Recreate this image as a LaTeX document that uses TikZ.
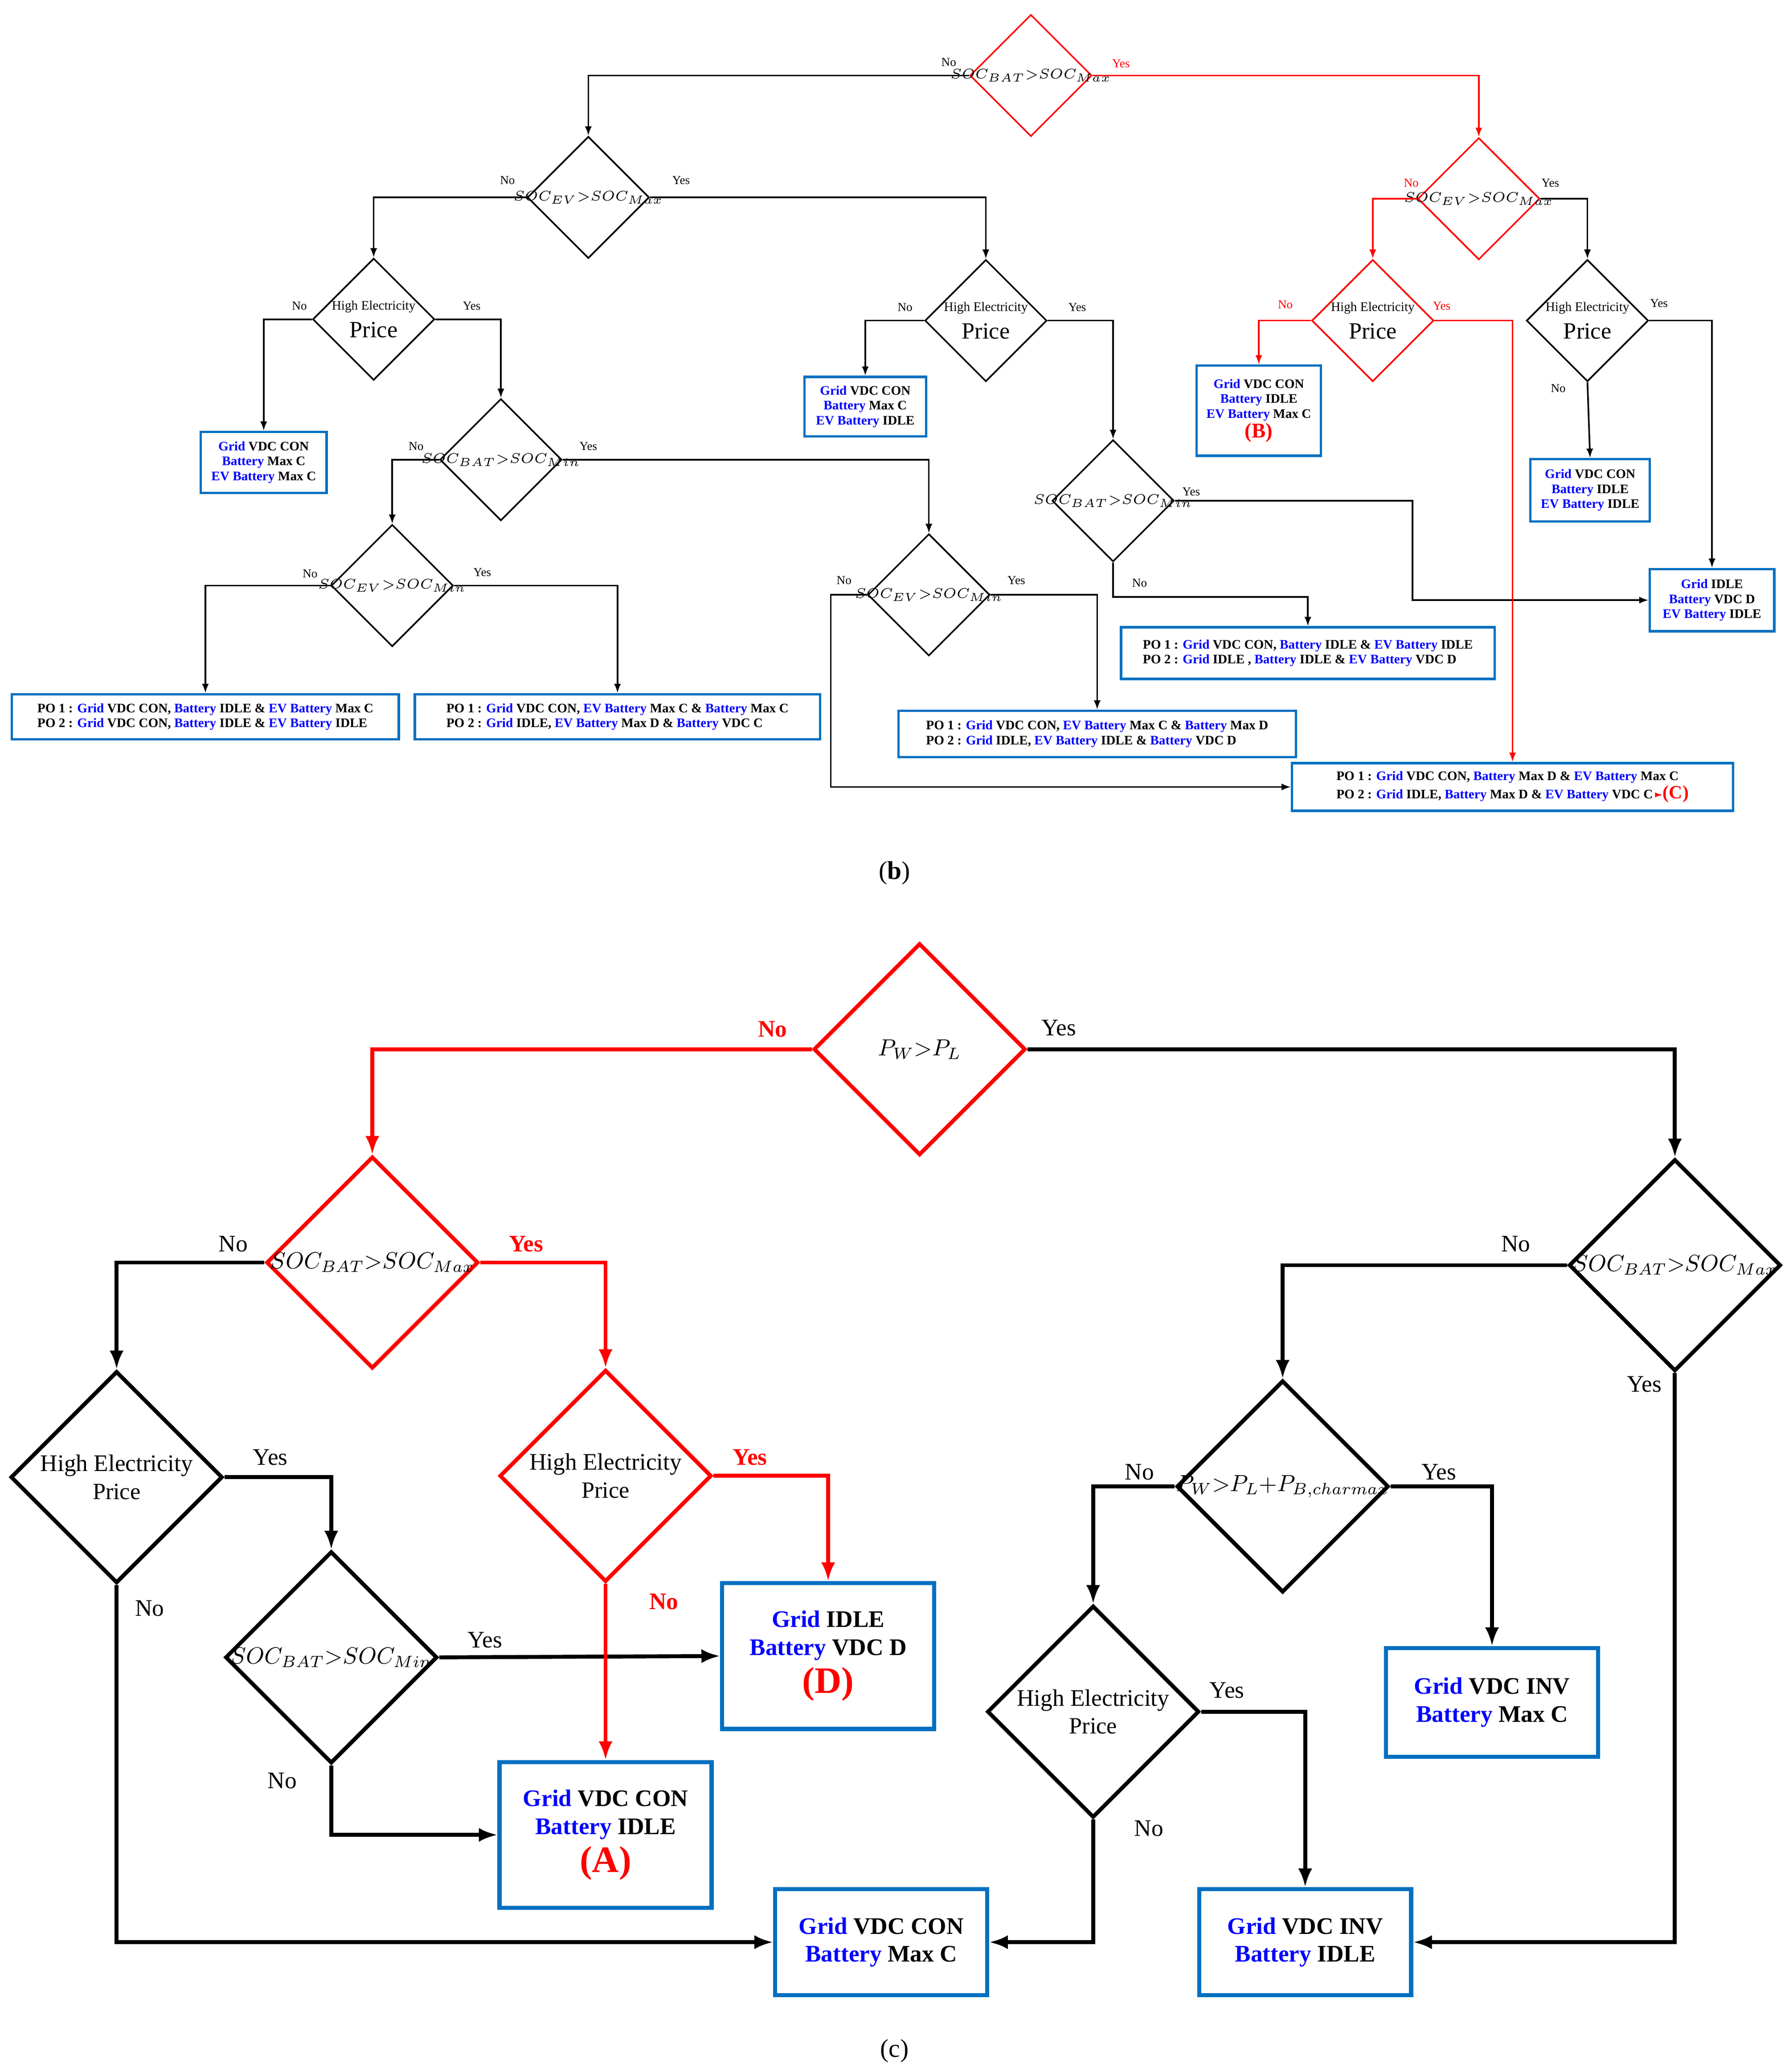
\documentclass[tikz,border=0pt]{standalone}
\usepackage{fontspec}
\setmainfont{Liberation Serif}
\usetikzlibrary{shapes.geometric,arrows.meta}
\definecolor{boxblue}{RGB}{0,112,192}
\newcommand{\gb}[1]{\textbf{\textcolor{blue}{#1}}}
\newcommand{\fsmall}{\fontsize{5.6}{6.4}\selectfont}
\newcommand{\fmid}{\fontsize{10.2}{12}\selectfont}

\begin{document}
\begin{tikzpicture}[x=0.02cm, y=-0.02cm,
  sdec/.style={diamond, draw, inner sep=0pt, minimum size=1.84cm, line width=0.7pt},
  bdec/.style={diamond, draw, inner sep=0pt, minimum size=3.2cm, line width=1.7pt},
  sbox/.style={rectangle, draw=boxblue, line width=1pt, inner sep=1pt, font=\fsmall, align=center},
  bbox/.style={rectangle, draw=boxblue, line width=1.8pt, minimum width=3.2cm, font=\fmid, align=center},
  sarr/.style={-{Latex[length=4pt]}, line width=0.7pt},
  barr/.style={-{Latex[length=8pt]}, line width=1.7pt},
  slbl/.style={font=\fontsize{5.2}{6}\selectfont},
  blbl/.style={font=\fmid}
]
\useasboundingbox (0,0) rectangle (1350,1564);

% Part (b): diamonds
\node[sdec, red, label={center:\fsmall$SOC_{BAT}{>}SOC_{Max}$}] (d1) at (778,57) {};
\node[sdec, label={center:\fsmall$SOC_{EV}{>}SOC_{Max}$}] (d2) at (444,149) {};
\node[sdec, label={[align=center]center:\fsmall High Electricity\\Price}] (d3) at (282,241) {};
\node[sdec, label={center:\fsmall$SOC_{BAT}{>}SOC_{Min}$}] (d4) at (378,347) {};
\node[sdec, label={center:\fsmall$SOC_{EV}{>}SOC_{Min}$}] (d5) at (296,442) {};
\node[sdec, label={[align=center]center:\fsmall High Electricity\\Price}] (d6) at (744,242) {};
\node[sdec, label={center:\fsmall$SOC_{BAT}{>}SOC_{Min}$}] (d7) at (840,378) {};
\node[sdec, label={center:\fsmall$SOC_{EV}{>}SOC_{Min}$}] (d8) at (701,449) {};
\node[sdec, red, label={center:\fsmall$SOC_{EV}{>}SOC_{Max}$}] (d9) at (1116,150) {};
\node[sdec, red, label={[align=center]center:\fsmall High Electricity\\Price}] (d10) at (1036,242) {};
\node[sdec, label={[align=center]center:\fsmall High Electricity\\Price}] (d11) at (1198,242) {};

% Part (b): boxes
\node[sbox, minimum width=1.9cm, minimum height=0.92cm] (b1) at (199,349) {\gb{Grid} \textbf{VDC CON}\\\gb{Battery} \textbf{Max C}\\\gb{EV Battery} \textbf{Max C}};
\node[sbox, minimum width=1.84cm, minimum height=0.9cm] (b4) at (653,307) {\gb{Grid} \textbf{VDC CON}\\\gb{Battery} \textbf{Max C}\\\gb{EV Battery} \textbf{IDLE}};
\node[sbox, minimum width=1.88cm, minimum height=1.36cm] (b8) at (950,310) {\gb{Grid} \textbf{VDC CON}\\\gb{Battery} \textbf{IDLE}\\\gb{EV Battery} \textbf{Max C}\\\textcolor{red}{\fontsize{9}{10}\selectfont\textbf{(B)}}};
\node[sbox, minimum width=1.8cm, minimum height=0.94cm] (b10) at (1200,370) {\gb{Grid} \textbf{VDC CON}\\\gb{Battery} \textbf{IDLE}\\\gb{EV Battery} \textbf{IDLE}};
\node[sbox, minimum width=1.88cm, minimum height=0.94cm] (b9) at (1292,453) {\gb{Grid} \textbf{IDLE}\\\gb{Battery} \textbf{VDC D}\\\gb{EV Battery} \textbf{IDLE}};
\node[sbox, align=left, minimum width=5.84cm, minimum height=0.68cm] (b2) at (155,541) {\textbf{PO 1 : }\gb{Grid} \textbf{VDC CON, }\gb{Battery} \textbf{IDLE \& }\gb{EV Battery} \textbf{Max C}\\\textbf{PO 2 : }\gb{Grid} \textbf{VDC CON, }\gb{Battery} \textbf{IDLE \& }\gb{EV Battery} \textbf{IDLE}};
\node[sbox, align=left, minimum width=6.12cm, minimum height=0.68cm] (b3) at (466,541) {\textbf{PO 1 : }\gb{Grid} \textbf{VDC CON, }\gb{EV Battery} \textbf{Max C \& }\gb{Battery} \textbf{Max C}\\\textbf{PO 2 : }\gb{Grid} \textbf{IDLE, }\gb{EV Battery} \textbf{Max D \& }\gb{Battery} \textbf{VDC C}};
\node[sbox, align=left, minimum width=5.64cm, minimum height=0.78cm] (b5) at (987,493) {\textbf{PO 1 : }\gb{Grid} \textbf{VDC CON, }\gb{Battery} \textbf{IDLE \& }\gb{EV Battery} \textbf{IDLE}\\\textbf{PO 2 : }\gb{Grid} \textbf{IDLE , }\gb{Battery} \textbf{IDLE \& }\gb{EV Battery} \textbf{VDC D}};
\node[sbox, align=left, minimum width=6cm, minimum height=0.7cm] (b6) at (828,554) {\textbf{PO 1 : }\gb{Grid} \textbf{VDC CON, }\gb{EV Battery} \textbf{Max C \& }\gb{Battery} \textbf{Max D}\\\textbf{PO 2 : }\gb{Grid} \textbf{IDLE, }\gb{EV Battery} \textbf{IDLE \& }\gb{Battery} \textbf{VDC D}};
\node[sbox, align=left, minimum width=6.66cm, minimum height=0.72cm] (b7) at (1141.5,594) {\textbf{PO 1 : }\gb{Grid} \textbf{VDC CON, }\gb{Battery} \textbf{Max D \& }\gb{EV Battery} \textbf{Max C}\\\textbf{PO 2 : }\gb{Grid} \textbf{IDLE, }\gb{Battery} \textbf{Max D \& }\gb{EV Battery} \textbf{VDC C}\textcolor{red}{\,\tikz[baseline=-0.6ex]\draw[-{Latex[length=3pt]}, line width=0.7pt] (0,0) -- (0.55,0);\fontsize{8}{9}\selectfont\textbf{(C)}}};

% Part (b): connectors
\draw[sarr] (d1.west) -| (d2.north);
\draw[sarr, red] (d1.east) -| (d9.north);
\draw[sarr] (d2.west) -| (d3.north);
\draw[sarr] (d2.east) -| (d6.north);
\draw[sarr] (d3.west) -| (b1.north);
\draw[sarr] (d3.east) -| (d4.north);
\draw[sarr] (d4.west) -| (d5.north);
\draw[sarr] (d4.east) -| (d8.north);
\draw[sarr] (d5.west) -| (b2.north);
\draw[sarr] (d5.east) -| (b3.north);
\draw[sarr] (d6.west) -| (b4.north);
\draw[sarr] (d6.east) -| (d7.north);
\draw[sarr] (d7.east) -- (1066,378) |- (b9.west);
\draw[sarr] (d7.south) -- ++(0,26) -| (b5.north);
\draw[sarr] (d8.east) -| (b6.north);
\draw[sarr] (d8.west) -- (627,449) |- (b7.west);
\draw[sarr, red] (d9.west) -| (d10.north);
\draw[sarr] (d9.east) -| (d11.north);
\draw[sarr, red] (d10.west) -| (b8.north);
\draw[sarr, red] (d10.east) -| (b7.north);
\draw[sarr] (d11.east) -| (b9.north);
\draw[sarr] (d11.south) -- (b10.north);

% Part (b): labels
\node[slbl] at (716,47) {No};
\node[slbl, red] at (846,48) {Yes};
\node[slbl] at (383,136) {No};
\node[slbl] at (514,136) {Yes};
\node[slbl] at (226,231) {No};
\node[slbl] at (356,231) {Yes};
\node[slbl] at (314,337) {No};
\node[slbl] at (444,337) {Yes};
\node[slbl] at (234,433) {No};
\node[slbl] at (364,432) {Yes};
\node[slbl] at (683,232) {No};
\node[slbl] at (813,232) {Yes};
\node[slbl] at (899,371) {Yes};
\node[slbl] at (860,440) {No};
\node[slbl] at (637,438) {No};
\node[slbl] at (767,438) {Yes};
\node[slbl, red] at (1065,138) {No};
\node[slbl] at (1170,138) {Yes};
\node[slbl, red] at (970,230) {No};
\node[slbl, red] at (1088,231) {Yes};
\node[slbl] at (1252,229) {Yes};
\node[slbl] at (1176,293) {No};
\node[font=\fontsize{11}{13}\selectfont] (capb) at (675,659) {(\textbf{b})};

% Part (c): diamonds
\node[bdec, red, label={center:\fmid$P_W{>}P_L$}] (e1) at (694,792) {};
\node[bdec, red, label={center:\fmid$SOC_{BAT}{>}SOC_{Max}$}] (e2) at (281,953) {};
\node[bdec, label={[align=center]center:\fmid High Electricity\\Price}] (e3) at (88,1115) {};
\node[bdec, label={center:\fmid$SOC_{BAT}{>}SOC_{Min}$}] (e4) at (250,1251) {};
\node[bdec, red, label={[align=center]center:\fmid High Electricity\\Price}] (e5) at (457,1114) {};
\node[bdec, label={center:\fmid$SOC_{BAT}{>}SOC_{Max}$}] (e7) at (1264,955) {};
\node[bdec, label={center:\fmid$P_W{>}P_L{+}P_{B,charmax}$}] (e8) at (968,1122) {};
\node[bdec, label={[align=center]center:\fmid High Electricity\\Price}] (e9) at (825,1292) {};

% Part (c): boxes
\node[bbox, minimum height=2.2cm] (bd) at (625,1250) {\gb{Grid} \textbf{IDLE}\\\gb{Battery} \textbf{VDC D}\\[2pt]\textcolor{red}{\fontsize{16}{18}\selectfont\textbf{(D)}}};
\node[bbox, minimum height=2.2cm] (ba) at (457,1385) {\gb{Grid} \textbf{VDC CON}\\\gb{Battery} \textbf{IDLE}\\[2pt]\textcolor{red}{\fontsize{16}{18}\selectfont\textbf{(A)}}};
\node[bbox, minimum height=1.6cm] (bg) at (665,1466) {\gb{Grid} \textbf{VDC CON}\\\gb{Battery} \textbf{Max C}};
\node[bbox, minimum height=1.64cm] (bh) at (1126,1285) {\gb{Grid} \textbf{VDC INV}\\\gb{Battery} \textbf{Max C}};
\node[bbox, minimum height=1.6cm] (bj) at (985,1466) {\gb{Grid} \textbf{VDC INV}\\\gb{Battery} \textbf{IDLE}};

% Part (c): connectors
\draw[barr, red] (e1.west) -| (e2.north);
\draw[barr] (e1.east) -| (e7.north);
\draw[barr] (e2.west) -| (e3.north);
\draw[barr, red] (e2.east) -| (e5.north);
\draw[barr] (e3.east) -| (e4.north);
\draw[barr] (e3.south) |- (bg.west);
\draw[barr] (e4.east) -- (bd.west);
\draw[barr] (e4.south) |- (ba.west);
\draw[barr, red] (e5.east) -| (bd.north);
\draw[barr, red] (e5.south) -- (ba.north);
\draw[barr] (e7.west) -| (e8.north);
\draw[barr] (e7.south) |- (bj.east);
\draw[barr] (e8.west) -| (e9.north);
\draw[barr] (e8.east) -| (bh.north);
\draw[barr] (e9.east) -| (bj.north);
\draw[barr] (e9.south) |- (bg.east);

% Part (c): labels
\node[blbl, red] at (583,777) {\textbf{No}};
\node[blbl] at (799,776) {Yes};
\node[blbl] at (176,939) {No};
\node[blbl, red] at (397,939) {\textbf{Yes}};
\node[blbl] at (204,1100) {Yes};
\node[blbl] at (113,1214) {No};
\node[blbl] at (366,1238) {Yes};
\node[blbl] at (213,1344) {No};
\node[blbl, red] at (566,1100) {\textbf{Yes}};
\node[blbl, red] at (501,1209) {\textbf{No}};
\node[blbl] at (1144,939) {No};
\node[blbl] at (1241,1045) {Yes};
\node[blbl] at (860,1111) {No};
\node[blbl] at (1086,1111) {Yes};
\node[blbl] at (926,1276) {Yes};
\node[blbl] at (867,1380) {No};
\node[font=\fontsize{11}{13}\selectfont] (capc) at (675,1548) {(c)};

\end{tikzpicture}
\end{document}
